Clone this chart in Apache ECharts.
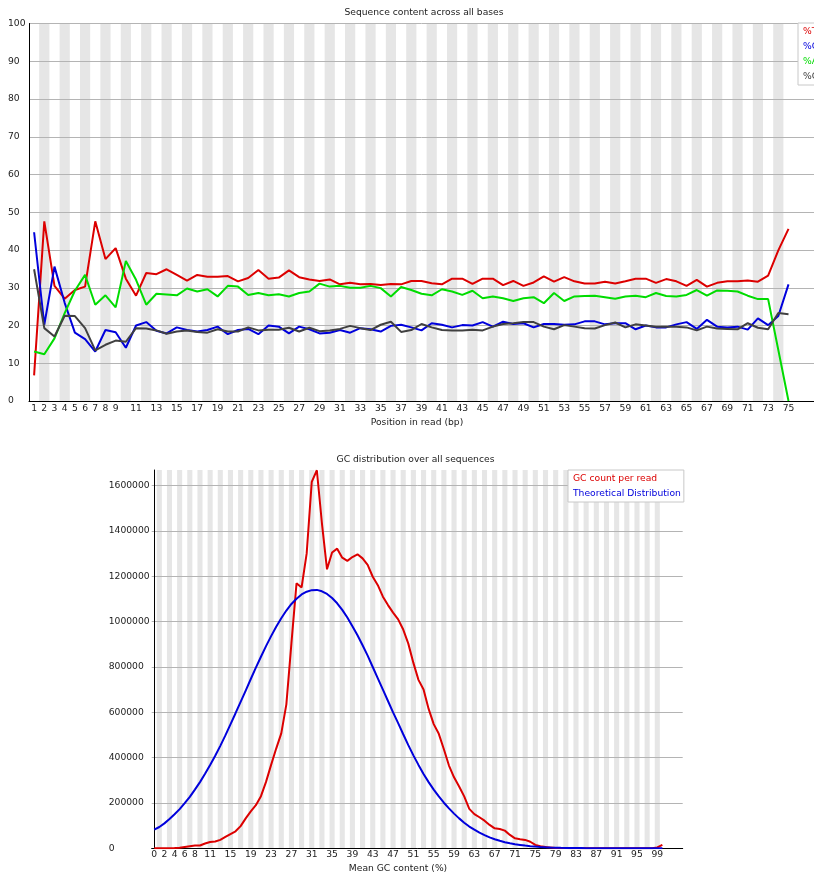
<!DOCTYPE html>
<html><head><meta charset="utf-8">
<script src="https://cdn.jsdelivr.net/npm/echarts@6/dist/echarts.min.js"></script>
<style>html,body{margin:0;padding:0;background:#fff}#c{width:814px;height:875px}</style>
</head><body><div id="c"></div>
<script>
// ---------- Data: Sequence content across all bases ----------
const positions = [1,2,3,4,5,6,7,8,9,10,11,12,13,14,15,16,17,18,19,20,21,22,23,24,25,26,27,28,29,30,31,32,33,34,35,36,37,38,39,40,41,42,43,44,45,46,47,48,49,50,51,52,53,54,55,56,57,58,59,60,61,62,63,64,65,66,67,68,69,70,71,72,73,74,75];
const pctT = [6.8,47.6,30.5,27.1,29.4,30.3,47.6,37.6,40.5,32.4,27.9,33.9,33.6,34.9,33.4,31.9,33.4,32.9,32.9,33.1,31.7,32.6,34.7,32.4,32.7,
  34.6,32.8,32.2,31.8,32.2,30.9,31.3,30.9,31.0,30.7,31.0,30.9,31.8,31.8,31.2,30.9,32.4,32.4,31.0,32.4,32.4,30.7,31.8,30.5,31.4,33.0,
  31.6,32.8,31.7,31.1,31.1,31.6,31.1,31.7,32.4,32.4,31.3,32.3,31.7,30.5,32.1,30.3,31.3,31.7,31.7,31.9,31.6,33.2,39.9,45.6];
const pctC = [44.7,20.2,35.6,26.0,18.1,16.4,13.1,18.8,18.2,14.1,20.0,20.9,18.6,17.9,19.5,18.8,18.4,18.8,19.7,17.7,18.8,19.1,17.7,20.0,19.7,
  17.9,19.7,19.0,17.9,18.1,18.8,18.1,19.3,19.0,18.4,19.9,20.2,19.5,18.7,20.6,20.2,19.5,20.1,20.0,20.9,19.7,21.0,20.4,20.6,19.5,20.4,
  20.4,20.2,20.3,21.1,21.1,20.3,20.6,20.6,19.0,20.0,19.5,19.5,20.3,20.9,19.1,21.5,19.7,19.5,19.7,18.9,21.9,20.1,22.5,30.9];
const pctA = [13.1,12.4,16.6,23.3,29.2,33.4,25.5,28.0,24.8,37.1,32.1,25.5,28.4,28.2,28.0,29.8,29.0,29.6,27.7,30.5,30.3,28.1,28.6,28.0,28.3,
  27.7,28.6,29.0,31.1,30.3,30.5,30.0,30.0,30.5,29.9,27.7,30.2,29.4,28.4,28.0,29.6,29.0,28.1,29.2,27.2,27.7,27.2,26.5,27.2,27.5,25.9,
  28.6,26.5,27.7,27.8,27.9,27.5,27.1,27.7,27.9,27.5,28.6,27.8,27.7,28.1,29.4,27.9,29.3,29.2,29.0,27.9,27.0,27.0,13.5,0.0];
const pctG = [34.9,19.3,17.1,22.6,22.5,19.3,13.4,14.9,16.0,15.7,19.3,19.2,18.7,17.8,18.4,18.7,18.3,18.1,19.0,18.4,18.4,19.5,18.7,18.9,18.9,
  19.4,18.4,19.4,18.5,18.7,19.1,19.9,19.3,18.8,20.2,21.0,18.3,18.8,20.4,19.5,18.8,18.7,18.7,18.9,18.7,19.7,20.4,20.6,20.9,20.9,19.7,
  19.0,20.1,19.7,19.3,19.2,20.1,20.8,19.5,20.3,20.0,19.7,19.7,19.7,19.5,18.7,19.7,19.2,19.1,19.0,20.6,19.4,19.0,23.3,23.0];
const topXTicks = [1,2,3,4,5,6,7,8,9,11,13,15,17,19,21,23,25,27,29,31,33,35,37,39,41,43,45,47,49,51,53,55,57,59,61,63,65,67,69,71,73,75];

// ---------- Data: GC distribution over all sequences ----------
const gcPercent = [0,1,2,3,4,5,6,7,8,9,10,11,12,13,14,15,16,17,18,19,20,21,22,23,24,25,26,27,28,29,30,31,32,33,34,35,36,37,38,39,40,41,42,43,44,45,46,47,48,49,50,51,52,53,54,55,56,57,58,59,60,61,62,63,64,65,66,67,68,69,70,71,72,73,74,75,76,77,78,79,80,81,82,83,84,85,86,87,88,89,90,91,92,93,94,95,96,97,98,99,100];
const gcCount = [500,300,400,600,1000,2500,6000,9000,12000,12500,
  21000,28000,30000,37000,50000,63000,75000,98000,132000,163000,
  190000,230000,293000,368000,440000,507000,635000,905000,1169000,1151000,
  1301000,1617000,1668000,1434000,1231000,1305000,1322000,1282000,1268000,1285000,
  1297000,1279000,1250000,1198000,1161000,1110000,1073000,1040000,1010000,965000,
  903000,818000,743000,701000,615000,548000,505000,437000,365000,313000,
  273000,229000,174000,151000,137000,122000,103000,88000,85000,78000,
  59000,44000,40000,37000,29000,15000,9000,6000,3000,1800,
  1200,900,700,600,500,400,400,300,300,300,
  300,200,200,200,200,300,300,400,600,4000,15000];
const gcTheoretical = [82000,94000,110000,129000,150000,173000,199000,227000,259000,292000,
  329000,368000,408000,452000,498000,547000,596000,646000,696000,747000,
  797000,845000,892000,936000,977000,1015000,1049000,1078000,1101000,1120000,
  1132000,1139000,1140000,1134000,1122000,1104000,1081000,1052000,1018000,980000,
  940000,896000,850000,800000,750000,700000,650000,600000,552000,503000,
  455000,410000,368000,328000,292000,259000,229000,201000,176000,153000,
  132000,113000,96000,82000,69000,58000,48000,40000,33000,27000,
  22000,18000,15000,12000,9500,7500,6000,4700,3700,2900,
  2200,1700,1300,1000,800,600,400,300,200,200,
  100,100,100,100,0,0,0,0,0,0,0];
const bottomXTicks = [0,2,4,6,8,11,15,19,23,27,31,35,39,43,47,51,55,59,63,67,71,75,79,83,87,91,95,99];
const bottomYTicks = [0,200000,400000,600000,800000,1000000,1200000,1400000,1600000];

// ---------- Helpers ----------
const FONT = 'DejaVu Sans';
const FS = 9.2;
const TXT = '#222';
const pairs = (xs, ys) => xs.map((x, i) => [x, ys[i]]);
const stripes = (cats) => cats.filter((c, i) => i % 2 === 1).map(c => [{xAxis: c - 0.5}, {xAxis: c + 0.5}]);
const lineSeries = (name, data, color, xi) => ({
  name, type: 'line', xAxisIndex: xi, yAxisIndex: xi, data, z: 3,
  symbol: 'none', showSymbol: false, silent: true, animation: false,
  lineStyle: {color, width: 2}, itemStyle: {color}
});
const stripeSeries = (cats, xi) => ({
  type: 'line', xAxisIndex: xi, yAxisIndex: xi, data: [], silent: true, z: 1,
  markArea: {silent: true, z: 1, itemStyle: {color: '#e6e6e6'}, data: stripes(cats)}
});
const legendCommon = {
  orient: 'vertical', itemWidth: 0, itemHeight: 11, itemGap: 4,
  padding: [3, 3, 3, 0], backgroundColor: '#fff', borderColor: '#c8c8c8', borderWidth: 1,
  selectedMode: false, icon: 'rect', itemStyle: {opacity: 0}, lineStyle: {opacity: 0},
  textStyle: {fontFamily: FONT, fontSize: FS, lineHeight: 11}
};
const textEl = (text, x, y) => ({
  type: 'text', x, y, silent: true,
  style: {text, font: FS + 'px "' + FONT + '"', fill: TXT, align: 'center', verticalAlign: 'middle',
          textAlign: 'center', textVerticalAlign: 'middle'}
});

const chart = echarts.init(document.getElementById('c'), null, {renderer: 'canvas'});
chart.setOption({
  animation: false,
  backgroundColor: '#fff',
  textStyle: {fontFamily: FONT},
  grid: [
    {left: 29, right: 0, top: 23.5, bottom: 474, containLabel: false, outerBoundsMode: 'none'},
    {left: 151.7, right: 131.3, top: 470, bottom: 26.7, containLabel: false, outerBoundsMode: 'none'}
  ],
  xAxis: [
    {type: 'value', gridIndex: 0, min: 0.5, max: 77.5, z: 2,
     axisLine: {show: true, onZero: false, lineStyle: {color: '#000', width: 1}},
     axisTick: {show: false}, splitLine: {show: false},
     axisLabel: {customValues: topXTicks, margin: 3, color: TXT, fontFamily: FONT, fontSize: FS}},
    {type: 'value', gridIndex: 1, min: -0.5, max: 104, z: 2,
     axisLine: {show: true, onZero: false, lineStyle: {color: '#000', width: 1}},
     axisTick: {show: false}, splitLine: {show: false},
     axisLabel: {customValues: bottomXTicks, margin: 2, color: TXT, fontFamily: FONT, fontSize: FS}}
  ],
  yAxis: [
    {type: 'value', gridIndex: 0, min: 0, max: 100, interval: 10, z: 2,
     axisLine: {show: true, lineStyle: {color: '#000', width: 1}},
     axisTick: {show: false},
     splitLine: {show: true, lineStyle: {color: '#b4b4b4', width: 1}},
     axisLabel: {align: 'left', margin: 21, color: TXT, fontFamily: FONT, fontSize: FS}},
    {type: 'value', gridIndex: 1, min: 0, max: 1669000, z: 2,
     axisLine: {show: true, lineStyle: {color: '#000', width: 1}},
     axisTick: {show: false, customValues: bottomYTicks},
     splitLine: {show: true, lineStyle: {color: '#b4b4b4', width: 1}},
     axisLabel: {customValues: bottomYTicks, align: 'left', margin: 43, color: TXT, fontFamily: FONT, fontSize: FS,
                 formatter: v => String(v)}}
  ],
  legend: [
    Object.assign({}, legendCommon, {left: 798, top: 23, data: [
      {name: '%T', textStyle: {color: '#dc0000'}},
      {name: '%C', textStyle: {color: '#0000dc'}},
      {name: '%A', textStyle: {color: '#00dc00'}},
      {name: '%G', textStyle: {color: '#404040'}}
    ]}),
    Object.assign({}, legendCommon, {left: 568, top: 470, data: [
      {name: 'GC count per read', textStyle: {color: '#dc0000'}},
      {name: 'Theoretical Distribution', textStyle: {color: '#0000dc'}}
    ]})
  ],
  graphic: [
    textEl('Sequence content across all bases', 424, 13),
    textEl('Position in read (bp)', 417, 423),
    textEl('GC distribution over all sequences', 415.5, 460),
    textEl('Mean GC content (%)', 398, 869)
  ],
  series: [
    stripeSeries(positions, 0),
    lineSeries('%T', pairs(positions, pctT), '#dc0000', 0),
    lineSeries('%C', pairs(positions, pctC), '#0000dc', 0),
    lineSeries('%A', pairs(positions, pctA), '#00dc00', 0),
    lineSeries('%G', pairs(positions, pctG), '#404040', 0),
    stripeSeries(gcPercent, 1),
    lineSeries('GC count per read', pairs(gcPercent, gcCount), '#dc0000', 1),
    lineSeries('Theoretical Distribution', pairs(gcPercent, gcTheoretical), '#0000dc', 1)
  ]
});
</script></body></html>
